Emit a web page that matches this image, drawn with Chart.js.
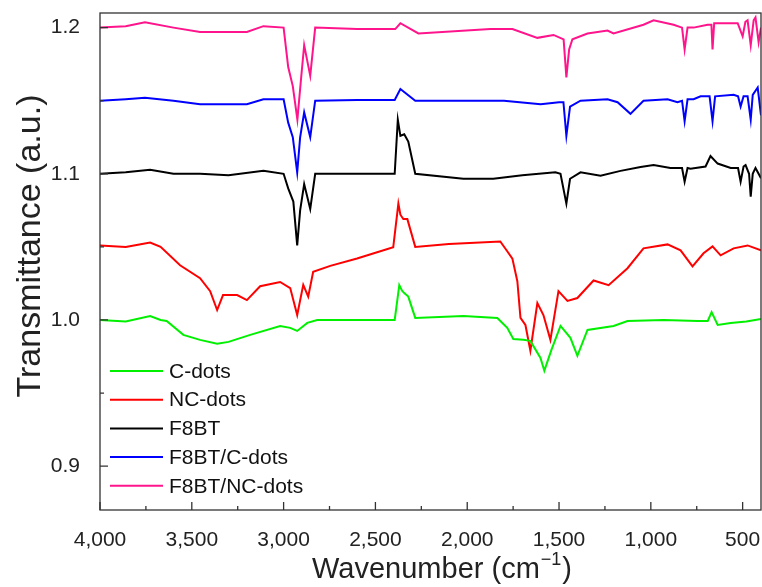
<!DOCTYPE html>
<html>
<head>
<meta charset="utf-8">
<script src="https://cdn.jsdelivr.net/npm/chart.js@4.4.1/dist/chart.umd.min.js"></script>
<style>
  html, body { margin: 0; padding: 0; background: #fff; }
  #wrap { width: 762px; height: 587px; }
</style>
</head>
<body>
<div id="wrap"><canvas id="ftir" width="762" height="587"></canvas></div>
<script>
// --- data (wavenumber in cm-1, transmittance a.u.) ---
const seriesNames = ["C-dots", "NC-dots", "F8BT", "F8BT/C-dots", "F8BT/NC-dots"];
const seriesColors = ["#00f000", "#ff0000", "#000000", "#0000ff", "#ff148c"];

const xTicks = [4000, 3500, 3000, 2500, 2000, 1500, 1000, 500];
const xMinorTicks = [3750, 3250, 2750, 2250, 1750, 1250, 750];
const yTicks = [0.9, 1.0, 1.1, 1.2];
const yMinorTicks = [0.95, 1.05, 1.15];

const cDotsWn = [4000, 3860, 3727, 3670, 3637, 3546, 3455, 3362, 3300, 3182, 3019, 2964, 2926, 2871, 2817, 2600, 2395, 2370, 2355, 2343, 2321, 2283, 2021, 1836, 1782, 1749, 1694, 1656, 1601, 1580, 1540, 1492, 1438, 1400, 1345, 1203, 1127, 931, 745, 690, 669, 636, 565, 480, 400];
const cDotsT  = [1.0, 0.999, 1.0027, 1.0, 0.9993, 0.9898, 0.9864, 0.9837, 0.985, 0.9898, 0.9959, 0.9946, 0.9925, 0.998, 1.0, 1.0, 1.0, 1.0238, 1.02, 1.0184, 1.016, 1.0014, 1.0027, 1.0014, 0.9946, 0.987, 0.9864, 0.9857, 0.974, 0.9653, 0.98, 0.9959, 0.9878, 0.9755, 0.9932, 0.9959, 0.9993, 1.0, 0.9993, 0.9993, 1.0054, 0.9966, 0.998, 0.999, 1.0007];

const ncDotsWn = [4000, 3860, 3727, 3670, 3564, 3455, 3400, 3362, 3330, 3253, 3200, 3128, 3019, 2964, 2926, 2893, 2866, 2839, 2746, 2600, 2403, 2375, 2364, 2348, 2326, 2283, 2100, 1820, 1782, 1754, 1727, 1710, 1683, 1656, 1618, 1585, 1547, 1503, 1454, 1400, 1312, 1230, 1127, 1040, 909, 838, 773, 713, 664, 620, 549, 473, 400];
const ncDotsT  = [1.051, 1.05, 1.053, 1.05, 1.0374, 1.0286, 1.0197, 1.0068, 1.017, 1.017, 1.0136, 1.0231, 1.026, 1.0218, 1.0034, 1.024, 1.016, 1.033, 1.037, 1.042, 1.0497, 1.0796, 1.072, 1.069, 1.069, 1.05, 1.052, 1.0537, 1.047, 1.042, 1.0265, 1.0014, 0.9966, 0.979, 1.0116, 1.0034, 0.9864, 1.0197, 1.013, 1.015, 1.027, 1.0238, 1.0354, 1.049, 1.0517, 1.0476, 1.0367, 1.0456, 1.0503, 1.0442, 1.049, 1.051, 1.0476];

const f8btWn = [4000, 3860, 3727, 3600, 3455, 3300, 3110, 3000, 2975, 2947, 2926, 2910, 2888, 2855, 2828, 2600, 2395, 2378, 2364, 2343, 2321, 2283, 2021, 1858, 1700, 1520, 1492, 1460, 1440, 1383, 1274, 1165, 1056, 985, 893, 830, 816, 800, 784, 702, 675, 636, 565, 525, 511, 495, 484, 465, 456, 445, 430, 400];
const f8btT  = [1.1, 1.101, 1.1027, 1.1, 1.1, 1.099, 1.102, 1.1, 1.09, 1.081, 1.051, 1.075, 1.093, 1.076, 1.1, 1.1, 1.1, 1.137, 1.126, 1.127, 1.122, 1.1, 1.0966, 1.0966, 1.099, 1.101, 1.1, 1.0796, 1.0966, 1.101, 1.0986, 1.102, 1.1047, 1.106, 1.104, 1.104, 1.0946, 1.104, 1.1034, 1.105, 1.1122, 1.107, 1.104, 1.104, 1.0946, 1.105, 1.106, 1.1, 1.0844, 1.1, 1.104, 1.097];

const f8btCWn = [4000, 3860, 3755, 3600, 3455, 3200, 3110, 3000, 2975, 2950, 2926, 2910, 2888, 2855, 2828, 2600, 2395, 2364, 2283, 1800, 1600, 1500, 1476, 1460, 1440, 1383, 1236, 1181, 1111, 1040, 909, 855, 830, 816, 800, 767, 729, 680, 664, 650, 549, 525, 511, 495, 473, 456, 445, 418, 400];
const f8btCT  = [1.15, 1.151, 1.152, 1.15, 1.1476, 1.1476, 1.151, 1.151, 1.135, 1.125, 1.101, 1.125, 1.142, 1.125, 1.15, 1.1505, 1.1505, 1.158, 1.15, 1.15, 1.1476, 1.149, 1.149, 1.126, 1.146, 1.15, 1.151, 1.149, 1.141, 1.15, 1.151, 1.149, 1.15, 1.136, 1.151, 1.151, 1.153, 1.153, 1.136, 1.153, 1.154, 1.153, 1.146, 1.153, 1.153, 1.137, 1.154, 1.159, 1.14];

const f8btNcWn = [4000, 3860, 3755, 3600, 3455, 3200, 3110, 3000, 2975, 2950, 2925, 2905, 2888, 2855, 2828, 2600, 2392, 2364, 2266, 1874, 1754, 1618, 1530, 1475, 1460, 1445, 1427, 1345, 1236, 1203, 1040, 985, 876, 830, 816, 800, 767, 691, 670, 664, 655, 527, 500, 485, 473, 456, 440, 430, 413, 400];
const f8btNcT  = [1.2, 1.201, 1.2036, 1.2, 1.197, 1.197, 1.201, 1.2, 1.173, 1.16, 1.137, 1.165, 1.188, 1.167, 1.2, 1.199, 1.199, 1.203, 1.196, 1.199, 1.199, 1.193, 1.195, 1.192, 1.166, 1.185, 1.192, 1.196, 1.198, 1.196, 1.202, 1.205, 1.202, 1.2, 1.185, 1.2, 1.2, 1.202, 1.202, 1.185, 1.203, 1.203, 1.194, 1.204, 1.205, 1.188, 1.205, 1.207, 1.19, 1.2];

const FONT = '"Liberation Sans", Arial, sans-serif';

function toPoints(wn, t) {
  return wn.map((w, i) => ({ x: w, y: t[i] }));
}

const allSeries = [
  toPoints(cDotsWn, cDotsT),
  toPoints(ncDotsWn, ncDotsT),
  toPoints(f8btWn, f8btT),
  toPoints(f8btCWn, f8btCT),
  toPoints(f8btNcWn, f8btNcT)
];

// frame, inward ticks, axis titles and legend
const decorations = {
  id: "decorations",
  afterDraw(chart) {
    const ctx = chart.ctx;
    const a = chart.chartArea;
    const xs = chart.scales.x, ys = chart.scales.y;
    ctx.save();
    ctx.strokeStyle = "#333";
    ctx.lineWidth = 1.3;
    ctx.beginPath();
    xTicks.forEach(v => { const p = xs.getPixelForValue(v); ctx.moveTo(p, a.bottom); ctx.lineTo(p, a.bottom - 8); });
    xMinorTicks.forEach(v => { const p = xs.getPixelForValue(v); ctx.moveTo(p, a.bottom); ctx.lineTo(p, a.bottom - 4); });
    yTicks.forEach(v => { const p = ys.getPixelForValue(v); ctx.moveTo(a.left, p); ctx.lineTo(a.left + 8, p); });
    yMinorTicks.forEach(v => { const p = ys.getPixelForValue(v); ctx.moveTo(a.left, p); ctx.lineTo(a.left + 4, p); });
    ctx.stroke();
    ctx.strokeRect(a.left, a.top, a.right - a.left, a.bottom - a.top);

    // legend
    ctx.font = "21px " + FONT;
    ctx.textBaseline = "middle";
    ctx.textAlign = "left";
    seriesNames.forEach((name, i) => {
      const y = 371 + i * 28.7;
      ctx.strokeStyle = seriesColors[i];
      ctx.lineWidth = 2;
      ctx.beginPath();
      ctx.moveTo(110, y);
      ctx.lineTo(163, y);
      ctx.stroke();
      ctx.fillStyle = "#111";
      ctx.fillText(name, 169, y + 1);
    });

    // y title
    ctx.fillStyle = "#222";
    ctx.save();
    ctx.translate(31, 246);
    ctx.rotate(-Math.PI / 2);
    ctx.font = "34px " + FONT;
    ctx.textAlign = "center";
    ctx.textBaseline = "middle";
    ctx.fillText("Transmittance (a.u.)", 0, 0);
    ctx.restore();

    // x title with superscript
    const main = "Wavenumber (cm", sup = "\u22121", tail = ")";
    ctx.textBaseline = "alphabetic";
    ctx.textAlign = "left";
    ctx.font = "29px " + FONT;
    const w1 = ctx.measureText(main).width, w3 = ctx.measureText(tail).width;
    ctx.font = "18px " + FONT;
    const w2 = ctx.measureText(sup).width;
    let x = 442 - (w1 + w2 + w3 + 2) / 2;
    const base = 578;
    ctx.font = "29px " + FONT;
    ctx.fillText(main, x, base);
    x += w1 + 1;
    ctx.font = "18px " + FONT;
    ctx.fillText(sup, x, base - 13);
    x += w2 + 1;
    ctx.font = "29px " + FONT;
    ctx.fillText(tail, x, base);
    ctx.restore();
  }
};

new Chart(document.getElementById("ftir"), {
  type: "line",
  data: {
    datasets: allSeries.map((pts, i) => ({
      label: seriesNames[i],
      data: pts,
      borderColor: seriesColors[i],
      borderWidth: 2,
      pointRadius: 0,
      tension: 0,
      fill: false
    }))
  },
  options: {
    responsive: false,
    animation: false,
    layout: { padding: { top: 13, right: 1, left: 0, bottom: 0 } },
    plugins: { legend: { display: false }, tooltip: { enabled: false } },
    scales: {
      x: {
        type: "linear",
        reverse: true,
        min: 400,
        max: 4000,
        afterBuildTicks: s => { s.ticks = xTicks.map(v => ({ value: v })); },
        afterFit: s => { s.height = 77; s.paddingLeft = 0; s.paddingRight = 0; },
        grid: { display: false },
        border: { display: false },
        ticks: {
          padding: 10,
          color: "#222",
          font: { family: FONT, size: 21 },
          maxRotation: 0,
          callback: v => v.toLocaleString("en-US")
        }
      },
      y: {
        min: 0.87,
        max: 1.21,
        afterBuildTicks: s => { s.ticks = yTicks.map(v => ({ value: v })); },
        afterFit: s => { s.width = 100; s.paddingTop = 0; s.paddingBottom = 0; },
        grid: { display: false },
        border: { display: false },
        ticks: {
          padding: 12,
          color: "#222",
          font: { family: FONT, size: 21 },
          callback: v => v.toFixed(1)
        }
      }
    }
  },
  plugins: [decorations]
});
</script>
</body>
</html>
